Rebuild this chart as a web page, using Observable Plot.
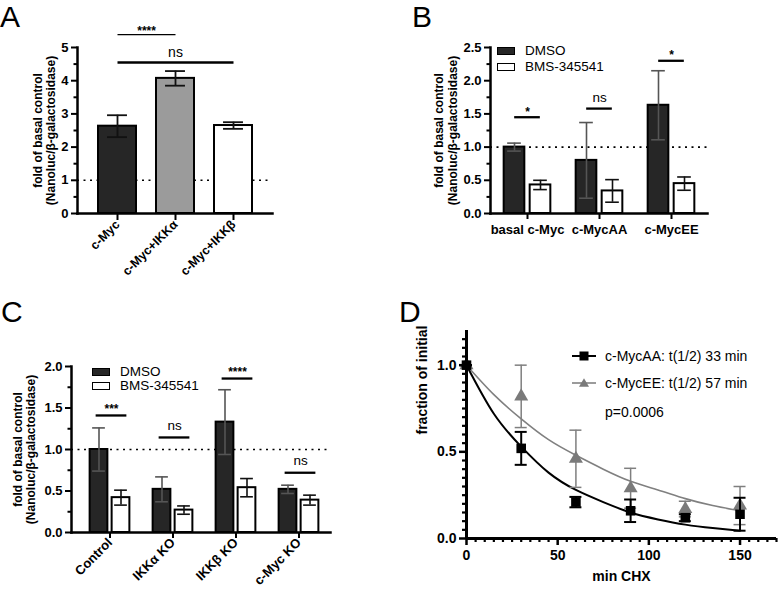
<!DOCTYPE html>
<html><head><meta charset="utf-8">
<script src="https://cdn.jsdelivr.net/npm/d3@7"></script>
<script src="https://cdn.jsdelivr.net/npm/@observablehq/plot@0.6"></script>
<style>
body{margin:0;background:#fff;}
#fig{position:relative;width:778px;height:589px;overflow:hidden;background:#fff;font-family:"Liberation Sans",Arial,Helvetica,sans-serif;color:#000;}
.panel{position:absolute;}
.letter{position:absolute;font-size:30px;line-height:32px;}
.leg{position:absolute;white-space:nowrap;}
.box{position:absolute;box-sizing:border-box;border:1.6px solid #000;}
</style></head><body><div id="fig"></div>
<script>
// ---------- Panel A data ----------
const aCategories = ["c-Myc", "c-Myc+IKKα", "c-Myc+IKKβ"];
const aMeans = [2.63, 4.07, 2.65];
const aErrors = [0.33, 0.22, 0.10];
const aYTicks = [0, 1, 2, 3, 4, 5];
const aSigFrom = ["c-Myc", "c-Myc"];
const aSigTo = ["c-Myc+IKKα", "c-Myc+IKKβ"];
const aSigLabels = ["****", "ns"];
const aSigLevels = [5.39, 4.55];
const aSigTextLevels = [5.5, 4.86];

// ---------- Panel B data ----------
const bGroups = ["basal c-Myc", "c-MycAA", "c-MycEE"];
const bSeries = ["DMSO", "BMS-345541"];
const bDmsoMeans = [1.00, 0.80, 1.63];
const bDmsoErr = [0.06, 0.57, 0.52];
const bBmsMeans = [0.43, 0.34, 0.45];
const bBmsErr = [0.07, 0.17, 0.10];
const bYTicks = [0, 0.5, 1.0, 1.5, 2.0, 2.5];
const bSigLabels = ["*", "ns", "*"];
const bSigLevels = [1.45, 1.58, 2.30];
const bSigTextLevels = [1.53, 1.74, 2.38];

// ---------- Panel C data ----------
const cGroups = ["Control", "IKKα KO", "IKKβ KO", "c-Myc KO"];
const cSeries = ["DMSO", "BMS-345541"];
const cDmsoMeans = [1.00, 0.52, 1.33, 0.52];
const cDmsoErr = [0.26, 0.15, 0.39, 0.05];
const cBmsMeans = [0.42, 0.27, 0.54, 0.39];
const cBmsErr = [0.09, 0.05, 0.11, 0.06];
const cYTicks = [0, 0.5, 1.0, 1.5, 2.0];
const cSigLabels = ["***", "ns", "****", "ns"];
const cSigLevels = [1.41, 1.145, 1.855, 0.72];
const cSigTextLevels = [1.49, 1.29, 1.93, 0.86];

// ---------- Panel D data ----------
const dTimes = [0, 30, 60, 90, 120, 150];
const dAAMeans = [1.00, 0.52, 0.21, 0.16, 0.12, 0.14];
const dAAErr = [0.00, 0.095, 0.03, 0.065, 0.02, 0.095];
const dEEMeans = [1.00, 0.82, 0.46, 0.29, 0.17, 0.19];
const dEEErr = [0.00, 0.18, 0.165, 0.115, 0.045, 0.11];
const dFitTimes = [0, 15, 30, 45, 60, 75, 90, 105, 120, 135, 150];
const dAAFit = [1.00, 0.72, 0.53, 0.38, 0.28, 0.21, 0.15, 0.11, 0.08, 0.06, 0.045];
const dEEFit = [1.00, 0.83, 0.69, 0.57, 0.48, 0.40, 0.33, 0.28, 0.23, 0.19, 0.16];
const dXTicks = [0, 50, 100, 150];
const dYTicks = [0, 0.5, 1.0];
const dLegend = ["c-MycAA: t(1/2) 33 min", "c-MycEE: t(1/2) 57 min"];
const dPValue = "p=0.0006";

const FONT = '"Liberation Sans", Arial, Helvetica, sans-serif';
const YLABEL = "fold of basal control\n(Nanoluc/β-galactosidase)";
const fig = document.getElementById("fig");

function place(node, left, top) {
  const w = document.createElement("div");
  w.className = "panel";
  w.style.left = left + "px";
  w.style.top = top + "px";
  w.appendChild(node);
  fig.appendChild(w);
}
function htmlText(text, left, cy, size, extra = "") {
  const d = document.createElement("div");
  d.className = "leg";
  d.textContent = text;
  d.style.cssText += `left:${left}px;top:${cy - size * 0.6}px;font-size:${size}px;line-height:${size * 1.2}px;${extra}`;
  fig.appendChild(d);
  return d;
}
function box(left, top, w, h, fill) {
  const d = document.createElement("div");
  d.className = "box";
  d.style.cssText += `left:${left}px;top:${top}px;width:${w}px;height:${h}px;background:${fill};`;
  fig.appendChild(d);
}
function letter(ch, left, top) {
  const d = document.createElement("div");
  d.className = "letter";
  d.textContent = ch;
  d.style.left = left + "px";
  d.style.top = top + "px";
  fig.appendChild(d);
}

// ---------- Panel A ----------
{
  const W = 390, H = 295, ML = 77, MR = 118, MT = 47, MB = 82;
  const pIn = 0.345, pOut = 0.35;
  const step = (W - ML - MR) / (aCategories.length - pIn + 2 * pOut);
  const bw = step * (1 - pIn);
  const capW = 20;
  const rows = aCategories.map((cat, i) => ({cat, mean: aMeans[i], err: aErrors[i]}));
  const sig = aSigFrom.map((f, i) => ({from: f, to: aSigTo[i], label: aSigLabels[i], y: aSigLevels[i], ty: aSigTextLevels[i]}));
  const sigMarks = sig.flatMap((d, i) => {
    const mid = (aCategories.indexOf(d.from) + aCategories.indexOf(d.to)) / 2;
    const base = Math.floor(mid);
    const stars = d.label !== "ns";
    return [
      Plot.link([d], {x1: "from", x2: "to", y1: "y", y2: "y", stroke: "#000", strokeWidth: i === 0 ? 1.3 : 2.6}),
      Plot.text([d], {x: () => aCategories[base], y: "ty", text: "label", dx: (mid - base) * step,
        fontSize: stars ? 12 : 14, fontWeight: stars ? "bold" : "normal"})
    ];
  });
  const p = Plot.plot({
    width: W, height: H, marginLeft: ML, marginRight: MR, marginTop: MT, marginBottom: MB,
    style: {fontFamily: FONT, overflow: "visible", background: "transparent", color: "#000"},
    x: {domain: aCategories, paddingInner: pIn, paddingOuter: pOut},
    y: {domain: [0, 5]},
    color: {domain: aCategories, range: ["#262626", "#9b9b9b", "#ffffff"]},
    marks: [
      Plot.ruleY([1], {strokeDasharray: "2,4.5", strokeWidth: 1.6}),
      Plot.barY(rows, {x: "cat", y: "mean", fill: "cat", stroke: "#000", strokeWidth: 2}),
      Plot.ruleX(rows, {x: "cat", y1: d => d.mean - d.err, y2: d => d.mean + d.err, stroke: "#111", strokeWidth: 1.8}),
      Plot.tickY(rows, {x: "cat", y: d => d.mean + d.err, insetLeft: (bw - capW) / 2, insetRight: (bw - capW) / 2, stroke: "#111", strokeWidth: 1.8}),
      Plot.tickY(rows, {x: "cat", y: d => d.mean - d.err, insetLeft: (bw - capW) / 2, insetRight: (bw - capW) / 2, stroke: "#111", strokeWidth: 1.8}),
      Plot.frame({anchor: "left", strokeWidth: 2.5}),
      Plot.frame({anchor: "bottom", strokeWidth: 2.5}),
      Plot.axisY({ticks: aYTicks, tickSize: 6, tickPadding: 3, tickFormat: d3.format("d"), fontSize: 13, fontWeight: "bold", strokeWidth: 2, label: null}),
      Plot.axisY({ticks: d3.range(0.5, 5, 1), tickSize: 3.5, tickFormat: () => "", strokeWidth: 2, label: null}),
      Plot.axisX({tickSize: 7, tickRotate: -45, tickPadding: 2, fontSize: 12.5, fontWeight: "bold", strokeWidth: 2, label: null}),
      Plot.text([YLABEL], {frameAnchor: "left", rotate: -90, dx: -33, fontSize: 12, fontWeight: "bold", lineHeight: 1.08, textAnchor: "middle", lineAnchor: "middle"}),
      ...sigMarks
    ]
  });
  place(p, 0, 0);
}

// ---------- Grouped bar helper (B, C) ----------
function groupedBars(cfg) {
  const rows = cfg.groups.map((g, i) => ({
    g, dm: cfg.dm[i], de: cfg.de[i], bm: cfg.bm[i], be: cfg.be[i],
    sl: cfg.sigLabels[i], sy: cfg.sigLevels[i], st: cfg.sigTextLevels[i]
  }));
  const bw = (cfg.xRange[1] - cfg.xRange[0]) / cfg.groups.length;
  const off = cfg.gap / 2 + cfg.barW / 2;
  const inA = bw / 2 - cfg.gap / 2 - cfg.barW, inB = bw / 2 + cfg.gap / 2;
  const capIn = (bw - cfg.capW) / 2;
  const sigIn = bw / 2 - cfg.sigHalf;
  const errMarks = (key, ekey, dx, color) => [
    Plot.ruleX(rows, {x: "g", y1: d => d[key] - d[ekey], y2: d => d[key] + d[ekey], dx, stroke: color, strokeWidth: 1.6}),
    Plot.tickY(rows, {x: "g", y: d => d[key] + d[ekey], dx, insetLeft: capIn, insetRight: capIn, stroke: color, strokeWidth: 1.6}),
    Plot.tickY(rows, {x: "g", y: d => d[key] - d[ekey], dx, insetLeft: capIn, insetRight: capIn, stroke: color, strokeWidth: 1.6})
  ];
  const yMinor = d3.range(cfg.yMinorStep, cfg.yMax, cfg.yMinorStep * 2);
  return Plot.plot({
    width: cfg.w, height: cfg.h, marginLeft: cfg.ml, marginRight: cfg.mr, marginTop: cfg.mt, marginBottom: cfg.mb,
    style: {fontFamily: FONT, overflow: "visible", background: "transparent", color: "#000"},
    x: {domain: cfg.groups, range: cfg.xRange, padding: 0},
    y: {domain: [0, cfg.yMax]},
    marks: [
      Plot.ruleY([1], {strokeDasharray: "2,4.5", strokeWidth: 1.6}),
      Plot.barY(rows, {x: "g", y: "dm", fill: "#262626", stroke: "#000", strokeWidth: 2, insetLeft: inA, insetRight: inB}),
      Plot.barY(rows, {x: "g", y: "bm", fill: "#ffffff", stroke: "#000", strokeWidth: 2, insetLeft: inB, insetRight: inA}),
      ...errMarks("dm", "de", -off, "#555"),
      ...errMarks("bm", "be", off, "#111"),
      Plot.tickY(rows, {x: "g", y: "sy", dx: cfg.sigShift, insetLeft: sigIn, insetRight: sigIn, stroke: "#000", strokeWidth: 2.3}),
      Plot.text(rows.filter(d => d.sl !== "ns"), {x: "g", y: "st", text: "sl", dx: cfg.sigShift, fontSize: 12, fontWeight: "bold"}),
      Plot.text(rows.filter(d => d.sl === "ns"), {x: "g", y: "st", text: "sl", dx: cfg.sigShift, fontSize: 13.5}),
      Plot.frame({anchor: "left", strokeWidth: 2.5}),
      Plot.frame({anchor: "bottom", strokeWidth: 2.5}),
      Plot.axisY({ticks: cfg.yTicks, tickSize: 6, tickPadding: 3, tickFormat: d3.format(".1f"), fontSize: 13, fontWeight: "bold", strokeWidth: 2, label: null}),
      Plot.axisY({ticks: yMinor, tickSize: 3.5, tickFormat: () => "", strokeWidth: 2, label: null}),
      Plot.axisX({tickSize: 6, tickRotate: cfg.rotate, tickPadding: cfg.rotate ? 2 : 5, fontSize: cfg.xFont, fontWeight: "bold", strokeWidth: 2, label: null}),
      Plot.text([YLABEL], {frameAnchor: "left", rotate: -90, dx: cfg.labelDx, fontSize: 12, fontWeight: "bold", lineHeight: cfg.labelLH, textAnchor: "middle", lineAnchor: "middle"})
    ]
  });
}

// ---------- Panel B ----------
place(groupedBars({
  groups: bGroups, dm: bDmsoMeans, de: bDmsoErr, bm: bBmsMeans, be: bBmsErr,
  sigLabels: bSigLabels, sigLevels: bSigLevels, sigTextLevels: bSigTextLevels,
  yTicks: bYTicks, yMax: 2.5, yMinorStep: 0.25,
  w: 388, h: 295, ml: 100, mr: 71, mt: 47, mb: 82, xRange: [100, 317],
  barW: 21, gap: 5, capW: 14, sigHalf: 13, sigShift: 0,
  rotate: 0, xFont: 13, labelDx: -45, labelLH: 1.2
}), 390, 0);

// ---------- Panel C ----------
place(groupedBars({
  groups: cGroups, dm: cDmsoMeans, de: cDmsoErr, bm: cBmsMeans, be: cBmsErr,
  sigLabels: cSigLabels, sigLevels: cSigLevels, sigTextLevels: cSigTextLevels,
  yTicks: cYTicks, yMax: 2.0, yMinorStep: 0.25,
  w: 390, h: 294, ml: 71, mr: 60, mt: 71, mb: 57, xRange: [77, 330],
  barW: 18, gap: 4, capW: 13, sigHalf: 15.5, sigShift: 1.5,
  rotate: -45, xFont: 13, labelDx: -47, labelLH: 1.05
}), 0, 295);

// ---------- Panel D ----------
{
  const rowsAA = dTimes.map((t, i) => ({t, m: dAAMeans[i], e: dAAErr[i]}));
  const rowsEE = dTimes.map((t, i) => ({t, m: dEEMeans[i], e: dEEErr[i]}));
  const fitAA = dFitTimes.map((t, i) => ({t, v: dAAFit[i]}));
  const fitEE = dFitTimes.map((t, i) => ({t, v: dEEFit[i]}));
  const errMarks = (rows, color, sw) => [
    Plot.ruleX(rows, {x: "t", y1: d => d.m - d.e, y2: d => d.m + d.e, stroke: color, strokeWidth: sw}),
    Plot.ruleY(rows, {y: d => d.m + d.e, x1: "t", x2: "t", insetLeft: -6, insetRight: -6, stroke: color, strokeWidth: sw}),
    Plot.ruleY(rows, {y: d => d.m - d.e, x1: "t", x2: "t", insetLeft: -6, insetRight: -6, stroke: color, strokeWidth: sw})
  ];
  const p = Plot.plot({
    width: 388, height: 294, marginLeft: 76, marginRight: 2, marginTop: 35, marginBottom: 51,
    style: {fontFamily: FONT, overflow: "visible", background: "transparent", color: "#000"},
    x: {domain: [0, 170]},
    y: {domain: [0, 1.2]},
    marks: [
      Plot.line(fitEE, {x: "t", y: "v", curve: "natural", stroke: "#808080", strokeWidth: 1.6}),
      Plot.line(fitAA, {x: "t", y: "v", curve: "natural", stroke: "#000", strokeWidth: 2}),
      ...errMarks(rowsEE, "#7f7f7f", 1.5),
      Plot.dot(rowsEE, {x: "t", y: "m", symbol: "triangle", r: 5.2, fill: "#7a7a7a", stroke: "none"}),
      ...errMarks(rowsAA, "#000", 2),
      Plot.dot(rowsAA, {x: "t", y: "m", symbol: "square", r: 5.4, fill: "#000", stroke: "none"}),
      Plot.ruleX([0], {strokeWidth: 3}),
      Plot.ruleY([0], {strokeWidth: 3}),
      Plot.axisY({ticks: dYTicks, tickSize: 7, tickPadding: 3, tickFormat: d3.format(".1f"), fontSize: 14, fontWeight: "bold", strokeWidth: 2.5, label: null}),
      Plot.axisY({ticks: d3.range(0.05, 1.2, 0.05).filter(v => Math.abs(v * 2 - Math.round(v * 2)) > 1e-6), tickSize: 4, tickFormat: () => "", strokeWidth: 2.2, label: null}),
      Plot.axisX({ticks: dXTicks, tickSize: 7, tickPadding: 5, fontSize: 14, fontWeight: "bold", strokeWidth: 2.5, label: null}),
      Plot.axisX({ticks: d3.range(5, 171, 5).filter(v => v % 50 !== 0), tickSize: 4, tickFormat: () => "", strokeWidth: 2.2, label: null}),
      Plot.text(["fraction of initial"], {frameAnchor: "left", rotate: -90, dx: -44, fontSize: 14, fontWeight: "bold"}),
      Plot.text(["min CHX"], {frameAnchor: "bottom", dy: 42, fontSize: 14, fontWeight: "bold"})
    ]
  });
  place(p, 390, 295);
}

// ---------- Legends (B, C, D) ----------
box(497, 47, 18, 8, "#262626"); htmlText(bSeries[0], 525, 51, 13.5);
box(497, 63, 18, 8, "#ffffff"); htmlText(bSeries[1], 525, 67.5, 13.5);
box(92, 368, 18, 8, "#262626"); htmlText(cSeries[0], 120, 372, 13.5);
box(92, 382, 18, 8, "#ffffff"); htmlText(cSeries[1], 120, 386, 13.5);

function legendGlyph(left, cy, color, symbol) {
  const s = document.createElement("div");
  s.className = "leg";
  s.style.left = left + "px";
  s.style.top = (cy - 7) + "px";
  const shape = symbol === "square"
    ? `<rect x="7.5" y="2.5" width="9" height="9" fill="${color}"/>`
    : `<path d="M12,2.2 L17,10.8 L7,10.8 Z" fill="${color}"/>`;
  s.innerHTML = `<svg width="24" height="14"><line x1="0" x2="24" y1="7" y2="7" stroke="${color}" stroke-width="${symbol === "square" ? 2 : 1.5}"/>${shape}</svg>`;
  fig.appendChild(s);
}
legendGlyph(572, 356, "#000", "square");
legendGlyph(572, 383, "#7a7a7a", "triangle");
htmlText(dLegend[0], 605, 356.5, 14);
htmlText(dLegend[1], 605, 383.5, 14);
htmlText(dPValue, 605, 412.5, 14);

// ---------- Panel letters ----------
letter("A", 0, 1);
letter("B", 412, 1);
letter("C", 1, 296);
letter("D", 399, 296);
</script></body></html>
